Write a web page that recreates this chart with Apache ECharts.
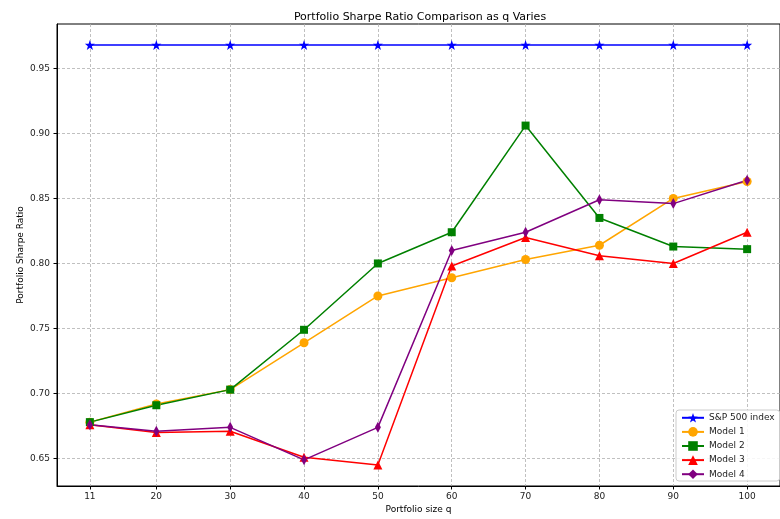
<!DOCTYPE html>
<html>
<head>
<meta charset="utf-8">
<script src="https://cdn.jsdelivr.net/npm/echarts@6/dist/echarts.min.js"></script>
<style>
  html, body { margin: 0; padding: 0; background: #fff; }
  #chart { width: 780px; height: 519px; }
</style>
</head>
<body>
<div id="chart"></div>
<script>
// Portfolio sizes q and the Sharpe ratio of each portfolio type
const portfolioSizes = [11, 20, 30, 40, 50, 60, 70, 80, 90, 100];
const sp500 = [0.968, 0.968, 0.968, 0.968, 0.968, 0.968, 0.968, 0.968, 0.968, 0.968];
const model1 = [0.678, 0.692, 0.703, 0.739, 0.775, 0.789, 0.803, 0.814, 0.850, 0.863];
const model2 = [0.678, 0.691, 0.703, 0.749, 0.800, 0.824, 0.906, 0.835, 0.813, 0.811];
const model3 = [0.676, 0.670, 0.671, 0.651, 0.645, 0.798, 0.820, 0.806, 0.800, 0.824];
const model4 = [0.676, 0.671, 0.674, 0.649, 0.674, 0.810, 0.824, 0.849, 0.846, 0.864];
const yTicks = [0.65, 0.70, 0.75, 0.80, 0.85, 0.90, 0.95];

const FONT = 'DejaVu Sans';
const STAR = 'path://M0,-10 L2.35,-3.24 L9.51,-3.09 L3.8,1.24 L5.88,8.09 L0,4 L-5.88,8.09 L-3.8,1.24 L-9.51,-3.09 L-2.35,-3.24 Z';

function pairs(values) {
  return portfolioSizes.map((q, i) => [q, values[i]]);
}

function lineSeries(name, values, color, symbol, size) {
  return {
    name: name,
    type: 'line',
    data: pairs(values),
    symbol: symbol,
    symbolSize: size,
    showAllSymbol: true,
    lineStyle: { color: color, width: 1.5 },
    itemStyle: { color: color },
    emphasis: { disabled: true },
    animation: false
  };
}

const gridLine = { show: true, lineStyle: { color: '#b0b0b0', type: [3, 2], width: 0.8 } };

const chart = echarts.init(document.getElementById('chart'), null, { renderer: 'canvas' });
chart.setOption({
  backgroundColor: '#fff',
  animation: false,
  textStyle: { fontFamily: FONT },
  title: {
    text: 'Portfolio Sharpe Ratio Comparison as q Varies',
    left: 415,
    top: 7,
    textAlign: 'center',
    textStyle: { fontFamily: FONT, fontSize: 11, fontWeight: 'normal', color: '#000' }
  },
  grid: {
    left: 57, top: 24, width: 726, height: 463,
    show: true, borderColor: '#000', borderWidth: 1, backgroundColor: 'transparent'
  },
  xAxis: {
    type: 'value',
    min: 6.55, max: 104.45,
    name: 'Portfolio size q',
    nameLocation: 'middle',
    nameGap: 19,
    nameMoveOverlap: false,
    nameTextStyle: { fontFamily: FONT, fontSize: 9, color: '#000' },
    axisLine: { show: true, lineStyle: { color: '#000', width: 1 } },
    axisTick: { show: true, length: 3.5, lineStyle: { color: '#000' }, customValues: portfolioSizes },
    axisLabel: { fontFamily: FONT, fontSize: 9, color: '#222', margin: 6, customValues: portfolioSizes },
    splitLine: gridLine
  },
  yAxis: {
    type: 'value',
    min: 0.6289, max: 0.9841,
    name: 'Portfolio Sharpe Ratio',
    nameLocation: 'middle',
    nameGap: 32,
    nameMoveOverlap: false,
    nameTextStyle: { fontFamily: FONT, fontSize: 9, color: '#000' },
    axisLine: { show: true, lineStyle: { color: '#000', width: 1 } },
    axisTick: { show: true, length: 3.5, lineStyle: { color: '#000' }, customValues: yTicks },
    axisLabel: {
      fontFamily: FONT, fontSize: 9, color: '#222', margin: 7,
      customValues: yTicks,
      formatter: v => v.toFixed(2)
    },
    splitLine: gridLine
  },
  legend: {
    orient: 'vertical',
    left: 676, top: 410,
    padding: [3, 5, 2, 5],
    itemWidth: 22,
    itemHeight: 12,
    itemGap: 4.5,
    backgroundColor: 'rgba(255,255,255,0.85)',
    borderColor: '#cccccc',
    borderWidth: 1,
    borderRadius: 3,
    textStyle: { fontFamily: FONT, fontSize: 9, color: '#222' },
    data: ['S&P 500 index', 'Model 1', 'Model 2', 'Model 3', 'Model 4']
  },
  series: [
    lineSeries('S&P 500 index', sp500, '#0000ff', STAR, 10),
    lineSeries('Model 1', model1, '#ffa500', 'circle', 9),
    lineSeries('Model 2', model2, '#008000', 'rect', 8),
    lineSeries('Model 3', model3, '#ff0000', 'triangle', 9),
    lineSeries('Model 4', model4, '#800080', 'diamond', [6, 11])
  ]
});
</script>
</body>
</html>
